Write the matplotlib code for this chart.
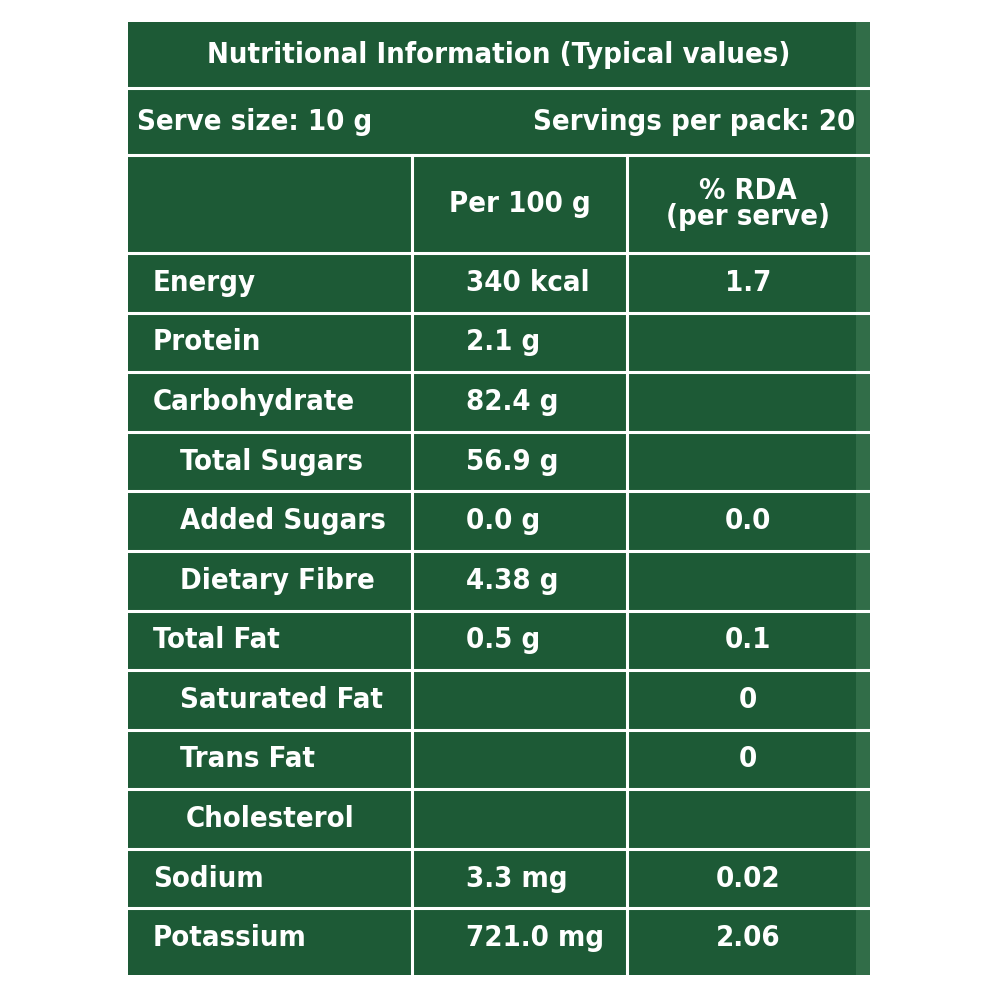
import matplotlib
matplotlib.use("Agg")
import matplotlib.pyplot as plt
from matplotlib.patches import Rectangle

# ── データ ───────────────────────────────────────────
title = 'Nutritional Information (Typical values)'
serve_size = 'Serve size: 10 g'
servings = 'Servings per pack: 20'
col_headers = ['Per 100 g', '% RDA\n(per serve)']
nutrients = ['Energy', 'Protein', 'Carbohydrate', 'Total Sugars', 'Added Sugars',
             'Dietary Fibre', 'Total Fat', 'Saturated Fat', 'Trans Fat',
             'Cholesterol', 'Sodium', 'Potassium']
indent = [0, 0, 0, 1, 1, 1, 0, 1, 1, 1.2, 0, 0]
per_100g = ['340 kcal', '2.1 g', '82.4 g', '56.9 g', '0.0 g', '4.38 g', '0.5 g',
            '', '', '', '3.3 mg', '721.0 mg']
rda = ['1.7', '', '', '', '0.0', '', '0.1', '0', '0', '', '0.02', '2.06']

# ── 描画 ─────────────────────────────────────────────
plt.rcParams['font.family'] = ['DejaVu Sans']
GREEN = '#1d5a36'
fig = plt.figure(figsize=(10, 10), dpi=100, facecolor='white')
ax = fig.add_axes([0, 0, 1, 1])
ax.set_xlim(0, 1000)
ax.set_ylim(1000, 0)
ax.axis('off')

L, R, T, B = 128, 870, 22, 975
ax.add_patch(Rectangle((L, T), R - L, B - T, facecolor=GREEN, edgecolor='none'))
ax.add_patch(Rectangle((R - 14, T), 14, B - T, facecolor='#3f7a55', edgecolor='none', alpha=0.6))

lw = 2.2
y_title, y_serve, y_head = 88, 155, 253
row_h = (968 - y_head) / len(nutrients)
for y in [y_title, y_serve, y_head] + [y_head + row_h * (i + 1) for i in range(len(nutrients) - 1)]:
    ax.plot([L, R], [y, y], color='white', lw=lw)
for x in [412, 627]:
    ax.plot([x, x], [y_serve, B], color='white', lw=lw)

fs = 21
txt = dict(color='white', fontweight='bold', va='center', fontsize=fs, fontstretch='condensed')
ax.text((L + R) / 2, 55, title, ha='center', **txt)
ax.text(137, 122, serve_size, ha='left', **txt)
ax.text(855, 122, servings, ha='right', **txt)
ax.text(520, 204, col_headers[0], ha='center', **txt)
ax.text(748, 204, col_headers[1], ha='center', linespacing=0.9, **txt)

for i, name in enumerate(nutrients):
    yc = y_head + row_h * (i + 0.5)
    ax.text(153 + 27 * indent[i], yc, name, ha='left', **txt)
    ax.text(466, yc, per_100g[i], ha='left', **txt)
    ax.text(748, yc, rda[i], ha='center', **txt)

plt.savefig('out.png', dpi=100, facecolor='white')
plt.close()
